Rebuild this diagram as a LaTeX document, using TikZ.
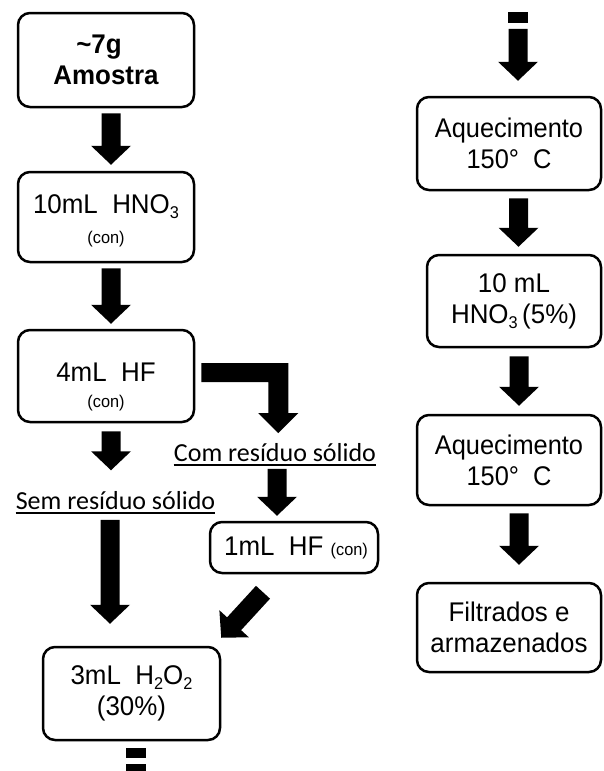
\documentclass[tikz,border=0pt]{standalone}
\usepackage{fontspec}
\setmainfont[FakeStretch=0.96]{Liberation Sans}
\newfontfamily\aqfont[FakeStretch=0.94]{Liberation Sans}
\newfontfamily\calib{Carlito}
\usetikzlibrary{calc}
\newcommand{\sbs}[1]{\raisebox{-5pt}{\fontsize{17}{17}\selectfont #1}}
\newcommand{\smallcon}{\fontsize{17}{17}\selectfont (con)}
\newcommand{\tstrut}[1]{\rule{0pt}{#1}}
\newcommand{\blockarr}[2]{%
  \coordinate (ba) at (#1);
  \coordinate (bb) at (#2);
  \coordinate (bc) at ($(bb)!19pt!(ba)$);
  \fill ($(ba)!9.5pt!90:(bb)$) -- ($(bc)!9.5pt!90:(bb)$) -- ($(bc)!20pt!90:(bb)$) -- (bb)
     -- ($(bc)!20pt!-90:(bb)$) -- ($(bc)!9.5pt!-90:(bb)$) -- ($(ba)!9.5pt!-90:(bb)$) -- cycle;}
\begin{document}
\begin{tikzpicture}[x=1pt,y=-1pt,
  box/.style={draw, line width=2.5pt, rounded corners=12pt, align=center, inner sep=0pt,
    font=\fontsize{27}{31}\selectfont},
  lbl/.style={inner sep=0pt, anchor=base, font=\calib\fontsize{26}{30}\selectfont},
  uline/.style={line width=2.2pt}]
\useasboundingbox (0,0) rectangle (603,771);

% left column boxes
\node[box, minimum width=176pt, minimum height=94pt, font=\bfseries\fontsize{27}{31}\selectfont] (A) at (106,60)
  {\textasciitilde 7g\hspace*{14pt}\\Amostra};
\node[box, minimum width=176pt, minimum height=90pt] (B) at (106,217)
  {\tstrut{27pt}10mL\ \ HNO\sbs{3}\\[-1pt]\smallcon};
\node[box, minimum width=176pt, minimum height=92pt] (C) at (106,376)
  {\tstrut{40pt}4mL\ \ HF\\[-5pt]\smallcon};
\node[box, minimum width=168pt, minimum height=51pt] (D) at (294,547.5)
  {\hspace*{4pt}1mL\ \ HF \smallcon};
\node[box, minimum width=177pt, minimum height=93pt] (E) at (131.5,693.5)
  {3mL\ \ H\sbs{2}O\sbs{2}\\(30\%)};

% labels
\node[lbl] (com) at (275,461.5) {Com resíduo sólido};
\draw[uline] ([yshift=-3.5pt]com.base west) -- ([yshift=-3.5pt]com.base east);
\node[lbl] (sem) at (115.5,509.5) {Sem resíduo sólido};
\draw[uline] ([yshift=-3.5pt]sem.base west) -- ([yshift=-3.5pt]sem.base east);

% right column boxes
\node[box, minimum width=184pt, minimum height=93pt, font=\aqfont\fontsize{27}{31}\selectfont] (F1) at (509,143.5)
  {Aquecimento\\150°\ \ C};
\node[box, minimum width=174pt, minimum height=92pt] (F2) at (514,301)
  {10 mL\\HNO\sbs{3}\,(5\%)};
\node[box, minimum width=184pt, minimum height=90pt, font=\aqfont\fontsize{27}{31}\selectfont] (F3) at (509,460)
  {Aquecimento\\150°\ \ C};
\node[box, minimum width=184pt, minimum height=89pt] (F4) at (509,627.5)
  {Filtrados e\\armazenados};

% arrows, left column
\blockarr{$(A.south)+(5,5)$}{$(B.north)+(5,-6)$}
\blockarr{$(B.south)+(5,5)$}{$(C.north)+(5,-5)$}
\blockarr{$(C.south)+(5,8)$}{$(sem.north)+(-4.5,-21)$}
\blockarr{$(sem.south)+(-5.5,10)$}{$(E.north)+(-21.5,-22)$}
% elbow arrow
\fill ($(C.east)+(6,-13)$) -- ++(87,0) -- ++(0,50) -- ++(10,0) -- ++(-20,20) -- ++(-20,-20)
  -- ++(10,0) -- ++(0,-31) -- ++(-67,0) -- cycle;
\blockarr{$(com.south)+(2,7)$}{$(D.north)+(-17,-5)$}
\blockarr{$(D.south)+(-31,18)$}{$(E.north east)+(0,-8)$}
% broken continuation below E
\fill ($(E.south)+(-5.5,7)$) rectangle ++(20,10);
\fill ($(E.south)+(-5.5,23)$) rectangle ++(20,12);

% arrows, right column
\fill ($(F1.north)+(-1,-84)$) rectangle ++(20,11);
\blockarr{$(F1.north)+(9,-67)$}{$(F1.north)+(9,-15)$}
\blockarr{$(F1.south)+(9.5,7)$}{$(F2.north)+(4.5,-7)$}
\blockarr{$(F2.south)+(5,8)$}{$(F3.north)+(10,-8)$}
\blockarr{$(F3.south)+(10,7)$}{$(F4.north)+(10,-17)$}
\end{tikzpicture}
\end{document}
